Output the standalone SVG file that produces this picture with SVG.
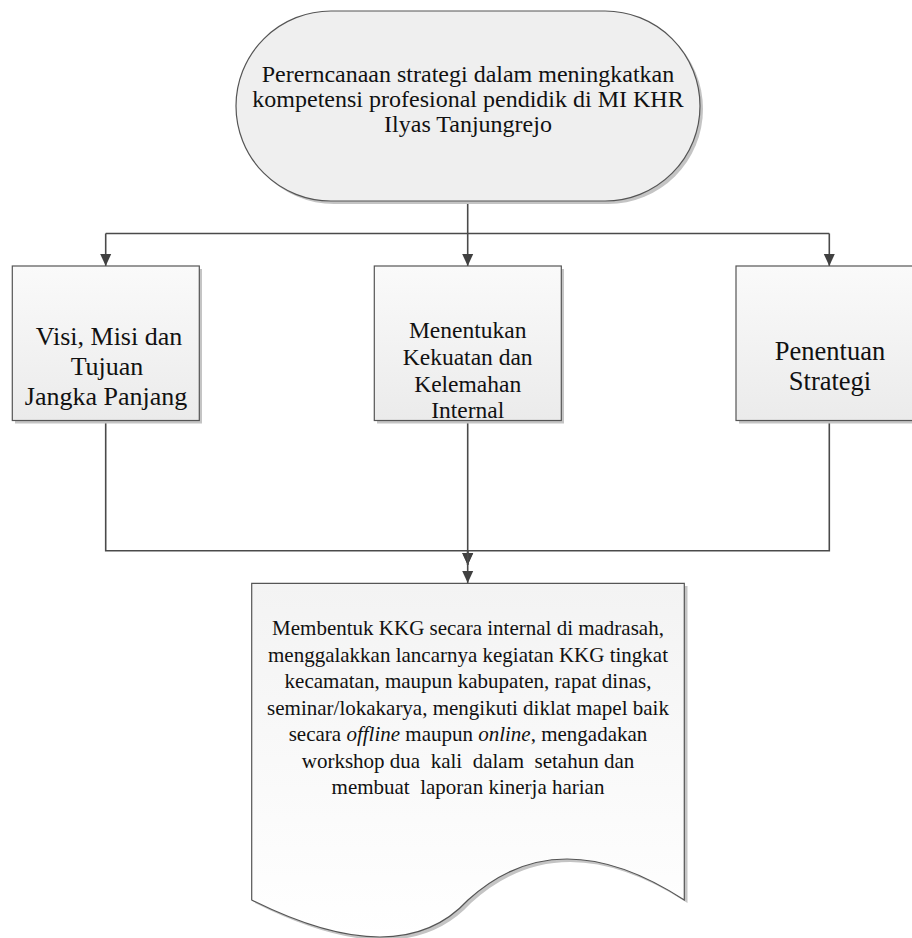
<svg xmlns="http://www.w3.org/2000/svg" width="912" height="938" viewBox="0 0 912 938">
<defs>
  <linearGradient id="boxFill" x1="0" y1="0" x2="0" y2="1">
    <stop offset="0" stop-color="#fafafa"/>
    <stop offset="1" stop-color="#ebebeb"/>
  </linearGradient>
  <linearGradient id="docFill" x1="0" y1="0" x2="0" y2="1">
    <stop offset="0" stop-color="#f3f3f3"/>
    <stop offset="1" stop-color="#ffffff"/>
  </linearGradient>
  <marker id="arrow" markerUnits="userSpaceOnUse" markerWidth="12" markerHeight="13" refX="12" refY="5.5" orient="auto" viewBox="0 0 12 11">
    <path d="M0,0 L12,5.5 L0,11 Z" fill="#404040"/>
  </marker>
</defs>
<style>
  .shape { stroke: #555555; stroke-width: 1.2; }
  .shadow { fill: #c4c4c4; stroke: none; }
  .conn { fill: none; stroke: #4a4a4a; stroke-width: 1.6; }
  .lbl { font-family: "Liberation Serif", "Times New Roman", serif; fill: #111111; text-anchor: middle; white-space: pre; }
</style>

<g id="connectors">
  <path class="conn" d="M467.7,201 V233.5" />
  <path class="conn" d="M105.7,233.5 H829.3" />
  <path class="conn" d="M105.7,233.5 V266" marker-end="url(#arrow)"/>
  <path class="conn" d="M467.7,233.5 V266" marker-end="url(#arrow)"/>
  <path class="conn" d="M829.3,233.5 V266" marker-end="url(#arrow)"/>
  <path class="conn" d="M105.7,421 V550.7 H467.7 V565" marker-end="url(#arrow)"/>
  <path class="conn" d="M829.3,421 V550.7 H467.7 V565" marker-end="url(#arrow)"/>
  <path class="conn" d="M467.7,421 V583" marker-end="url(#arrow)"/>
</g>

<g id="start">
  <rect class="shadow" x="239" y="14" width="464" height="190" rx="95" ry="95"/>
  <rect class="shape" x="236" y="11" width="464" height="190" rx="95" ry="95" fill="#efefef"/>
  <text class="lbl" font-size="24" x="468" y="82">Pererncanaan strategi dalam meningkatkan</text>
  <text class="lbl" font-size="24" x="468" y="107">kompetensi profesional pendidik di MI KHR</text>
  <text class="lbl" font-size="24" x="468" y="132">Ilyas Tanjungrejo</text>
</g>

<g id="visi">
  <rect class="shadow" x="15" y="269" width="187" height="154.5"/>
  <rect class="shape" x="12.3" y="266" width="187" height="154.5" fill="url(#boxFill)"/>
  <text class="lbl" font-size="26" x="106" y="345" xml:space="preserve"> Visi, Misi dan</text>
  <text class="lbl" font-size="26" x="107" y="375">Tujuan</text>
  <text class="lbl" font-size="26" x="106" y="405">Jangka Panjang</text>
</g>

<g id="kekuatan">
  <rect class="shadow" x="377" y="269" width="187" height="154.5"/>
  <rect class="shape" x="374.3" y="266" width="187" height="154.5" fill="url(#boxFill)"/>
  <text class="lbl" font-size="23.5" x="467.7" y="338.3">Menentukan</text>
  <text class="lbl" font-size="23.5" x="467.7" y="365">Kekuatan dan</text>
  <text class="lbl" font-size="23.5" x="467.7" y="391.7">Kelemahan</text>
  <text class="lbl" font-size="23.5" x="467.7" y="418.3">Internal</text>
</g>

<g id="strategi">
  <rect class="shadow" x="739" y="269" width="187" height="154.5"/>
  <rect class="shape" x="736" y="266" width="187" height="154.5" fill="url(#boxFill)"/>
  <text class="lbl" font-size="26.5" x="830" y="360">Penentuan</text>
  <text class="lbl" font-size="26.5" x="830" y="389.5">Strategi</text>
</g>

<g id="dokumen">
  <path class="shadow" d="M255,586 H687.5 V903 Q561,821 471,903 Q403,977 255,903 Z"/>
  <path class="shape" d="M251.7,583.3 H684.3 V900 Q558,818 468,900 Q400,974 251.7,900 Z" fill="url(#docFill)"/>
  <g class="lbl" font-size="21">
    <text x="468" y="635">Membentuk KKG secara internal di madrasah,</text>
    <text x="468" y="661.5">menggalakkan lancarnya kegiatan KKG tingkat</text>
    <text x="468" y="688">kecamatan, maupun kabupaten, rapat dinas,</text>
    <text x="468" y="714.5">seminar/lokakarya, mengikuti diklat mapel baik</text>
    <text x="468" y="741">secara <tspan font-style="italic">offline</tspan> maupun <tspan font-style="italic">online</tspan>, mengadakan</text>
    <text x="468" y="767.5" xml:space="preserve">workshop dua  kali  dalam  setahun dan</text>
    <text x="468" y="794" xml:space="preserve">membuat  laporan kinerja harian</text>
  </g>
</g>
</svg>
